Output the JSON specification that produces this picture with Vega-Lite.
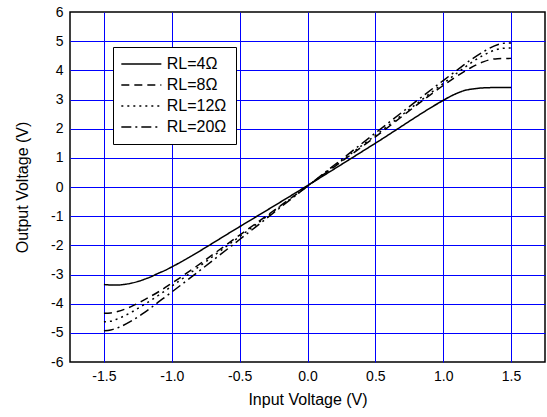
{
  "$schema": "https://vega.github.io/schema/vega-lite/v6.json",
  "width": 475,
  "height": 350,
  "autosize": "none",
  "padding": {"left": 70, "top": 12, "right": 2, "bottom": 55},
  "background": "white",
  "config": {
    "font": "Liberation Sans",
    "view": {"stroke": "black", "strokeWidth": 1.5},
    "axis": {"labelFont": "Liberation Sans", "titleFont": "Liberation Sans", "labelColor": "black", "titleColor": "black", "titleFontWeight": "normal"}
  },
  "data": {
    "values": [
      {"x": -1.5, "y": -3.34, "RL": "RL=4Ω"},
      {"x": -1.45, "y": -3.36, "RL": "RL=4Ω"},
      {"x": -1.4, "y": -3.36, "RL": "RL=4Ω"},
      {"x": -1.35, "y": -3.34, "RL": "RL=4Ω"},
      {"x": -1.3, "y": -3.3, "RL": "RL=4Ω"},
      {"x": -1.25, "y": -3.24, "RL": "RL=4Ω"},
      {"x": -1.2, "y": -3.16, "RL": "RL=4Ω"},
      {"x": -1.15, "y": -3.07, "RL": "RL=4Ω"},
      {"x": -1.1, "y": -2.96, "RL": "RL=4Ω"},
      {"x": -1.05, "y": -2.86, "RL": "RL=4Ω"},
      {"x": -1.0, "y": -2.74, "RL": "RL=4Ω"},
      {"x": -0.5, "y": -1.36, "RL": "RL=4Ω"},
      {"x": 0.0, "y": 0.05, "RL": "RL=4Ω"},
      {"x": 0.5, "y": 1.5, "RL": "RL=4Ω"},
      {"x": 1.0, "y": 2.97, "RL": "RL=4Ω"},
      {"x": 1.05, "y": 3.1, "RL": "RL=4Ω"},
      {"x": 1.1, "y": 3.21, "RL": "RL=4Ω"},
      {"x": 1.15, "y": 3.3, "RL": "RL=4Ω"},
      {"x": 1.2, "y": 3.35, "RL": "RL=4Ω"},
      {"x": 1.25, "y": 3.38, "RL": "RL=4Ω"},
      {"x": 1.3, "y": 3.4, "RL": "RL=4Ω"},
      {"x": 1.4, "y": 3.41, "RL": "RL=4Ω"},
      {"x": 1.5, "y": 3.41, "RL": "RL=4Ω"},

      {"x": -1.5, "y": -4.33, "RL": "RL=8Ω"},
      {"x": -1.45, "y": -4.32, "RL": "RL=8Ω"},
      {"x": -1.4, "y": -4.27, "RL": "RL=8Ω"},
      {"x": -1.3, "y": -4.1, "RL": "RL=8Ω"},
      {"x": -1.2, "y": -3.86, "RL": "RL=8Ω"},
      {"x": -1.1, "y": -3.6, "RL": "RL=8Ω"},
      {"x": -1.0, "y": -3.3, "RL": "RL=8Ω"},
      {"x": -0.5, "y": -1.65, "RL": "RL=8Ω"},
      {"x": 0.0, "y": 0.03, "RL": "RL=8Ω"},
      {"x": 0.5, "y": 1.72, "RL": "RL=8Ω"},
      {"x": 1.0, "y": 3.48, "RL": "RL=8Ω"},
      {"x": 1.1, "y": 3.8, "RL": "RL=8Ω"},
      {"x": 1.2, "y": 4.08, "RL": "RL=8Ω"},
      {"x": 1.3, "y": 4.3, "RL": "RL=8Ω"},
      {"x": 1.35, "y": 4.37, "RL": "RL=8Ω"},
      {"x": 1.4, "y": 4.4, "RL": "RL=8Ω"},
      {"x": 1.5, "y": 4.41, "RL": "RL=8Ω"},

      {"x": -1.5, "y": -4.62, "RL": "RL=12Ω"},
      {"x": -1.45, "y": -4.6, "RL": "RL=12Ω"},
      {"x": -1.4, "y": -4.52, "RL": "RL=12Ω"},
      {"x": -1.3, "y": -4.3, "RL": "RL=12Ω"},
      {"x": -1.2, "y": -4.02, "RL": "RL=12Ω"},
      {"x": -1.1, "y": -3.72, "RL": "RL=12Ω"},
      {"x": -1.0, "y": -3.4, "RL": "RL=12Ω"},
      {"x": -0.5, "y": -1.7, "RL": "RL=12Ω"},
      {"x": 0.0, "y": 0.03, "RL": "RL=12Ω"},
      {"x": 0.5, "y": 1.77, "RL": "RL=12Ω"},
      {"x": 1.0, "y": 3.55, "RL": "RL=12Ω"},
      {"x": 1.1, "y": 3.9, "RL": "RL=12Ω"},
      {"x": 1.2, "y": 4.24, "RL": "RL=12Ω"},
      {"x": 1.3, "y": 4.53, "RL": "RL=12Ω"},
      {"x": 1.4, "y": 4.72, "RL": "RL=12Ω"},
      {"x": 1.45, "y": 4.76, "RL": "RL=12Ω"},
      {"x": 1.5, "y": 4.77, "RL": "RL=12Ω"},

      {"x": -1.5, "y": -4.93, "RL": "RL=20Ω"},
      {"x": -1.45, "y": -4.9, "RL": "RL=20Ω"},
      {"x": -1.4, "y": -4.83, "RL": "RL=20Ω"},
      {"x": -1.3, "y": -4.6, "RL": "RL=20Ω"},
      {"x": -1.2, "y": -4.3, "RL": "RL=20Ω"},
      {"x": -1.1, "y": -3.95, "RL": "RL=20Ω"},
      {"x": -1.0, "y": -3.6, "RL": "RL=20Ω"},
      {"x": -0.5, "y": -1.8, "RL": "RL=20Ω"},
      {"x": 0.0, "y": 0.03, "RL": "RL=20Ω"},
      {"x": 0.5, "y": 1.85, "RL": "RL=20Ω"},
      {"x": 1.0, "y": 3.65, "RL": "RL=20Ω"},
      {"x": 1.1, "y": 4.0, "RL": "RL=20Ω"},
      {"x": 1.2, "y": 4.35, "RL": "RL=20Ω"},
      {"x": 1.3, "y": 4.65, "RL": "RL=20Ω"},
      {"x": 1.4, "y": 4.88, "RL": "RL=20Ω"},
      {"x": 1.45, "y": 4.93, "RL": "RL=20Ω"},
      {"x": 1.5, "y": 4.94, "RL": "RL=20Ω"}
    ]
  },
  "mark": {"type": "line", "color": "black", "strokeWidth": 1.5, "interpolate": "monotone"},
  "encoding": {
    "x": {
      "field": "x", "type": "quantitative",
      "scale": {"domain": [-1.75, 1.75], "nice": false, "zero": false},
      "axis": {
        "title": "Input Voltage (V)",
        "values": [-1.5, -1.0, -0.5, 0.0, 0.5, 1.0, 1.5],
        "format": ".1f",
        "labelExpr": "replace(datum.label, '−', '-')",
        "grid": true, "gridColor": "#0000ff", "gridWidth": 1, "gridOpacity": 1,
        "ticks": false, "domain": false,
        "labelFontSize": 14, "labelPadding": 7,
        "titleFontSize": 16, "titlePadding": 8
      }
    },
    "y": {
      "field": "y", "type": "quantitative",
      "scale": {"domain": [-6, 6], "nice": false, "zero": false},
      "axis": {
        "title": "Output Voltage (V)",
        "values": [-6, -5, -4, -3, -2, -1, 0, 1, 2, 3, 4, 5, 6],
        "labelExpr": "replace(datum.label, '−', '-')",
        "grid": true, "gridColor": "#0000ff", "gridWidth": 1,
        "gridOpacity": {"condition": {"test": "abs(datum.value) == 6", "value": 0}, "value": 1},
        "ticks": false, "domain": false,
        "labelFontSize": 14, "labelPadding": 7,
        "titleFontSize": 16, "titlePadding": 20
      }
    },
    "strokeDash": {
      "field": "RL", "type": "nominal",
      "scale": {
        "domain": ["RL=4Ω", "RL=8Ω", "RL=12Ω", "RL=20Ω"],
        "range": [[1, 0], [8, 5], [2, 4], [10, 4, 2, 4]]
      },
      "legend": {
        "title": null,
        "orient": "none",
        "legendX": 43,
        "legendY": 35,
        "strokeColor": "black",
        "fillColor": "white",
        "padding": 9,
        "symbolType": "M-1.3,0H4.7",
        "symbolSize": 178,
        "symbolStrokeWidth": 1.5,
        "symbolStrokeColor": "black",
        "symbolFillColor": "transparent",
        "labelFontSize": 16,
        "labelFont": "Liberation Sans",
        "labelColor": "black",
        "labelOffset": 28.7,
        "rowPadding": 5
      }
    }
  }
}
